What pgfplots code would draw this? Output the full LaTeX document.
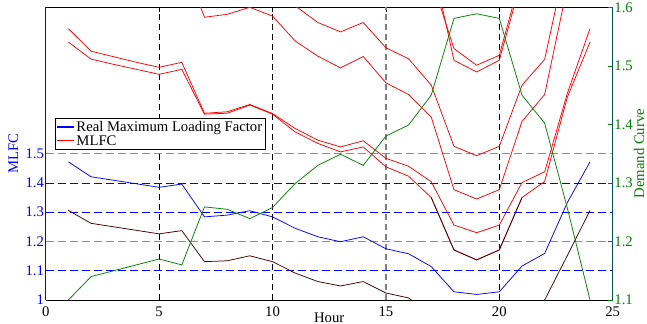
\documentclass[border=0pt]{standalone}
\usepackage{fontspec}
\setmainfont{Liberation Serif}
\usepackage{pgfplots}
\pgfplotsset{compat=1.18}
\usepackage{pgfplotstable}

\definecolor{mlblue}{rgb}{0,0,1}
\definecolor{mlred}{rgb}{1,0,0}
\definecolor{mlgreen}{rgb}{0,0.5,0}
\definecolor{mldark}{rgb}{0.25,0,0}
\definecolor{lightgrid}{rgb}{0.5,0.5,1}
\definecolor{tealaxis}{rgb}{0,0.33,0.38}
\newcommand\fs{\fontsize{14.7bp}{17bp}\selectfont}

\pgfplotstableread{
h blue p1 p2 s r dark green
1 1.472 1.927 1.881 2.40 2.60 1.306 1.100
2 1.421 1.850 1.823 2.33 2.52 1.262 1.140
3 1.409 1.831 1.805 2.31 2.50 1.250 1.150
4 1.397 1.812 1.788 2.29 2.48 1.238 1.160
5 1.385 1.795 1.771 2.27 2.46 1.226 1.170
6 1.396 1.812 1.788 2.17 2.40 1.237 1.160
7 1.284 1.638 1.635 1.966 2.09 1.131 1.259
8 1.290 1.643 1.638 1.976 2.10 1.134 1.255
9 1.305 1.668 1.666 2.000 2.12 1.151 1.239
10 1.284 1.637 1.635 1.970 2.09 1.131 1.258
11 1.245 1.586 1.574 1.885 2.005 1.092 1.299
12 1.216 1.546 1.535 1.833 1.948 1.063 1.330
13 1.199 1.523 1.506 1.793 1.916 1.048 1.349
14 1.216 1.544 1.523 1.832 1.948 1.063 1.330
15 1.175 1.484 1.455 1.742 1.862 1.024 1.380
16 1.158 1.457 1.423 1.702 1.824 1.007 1.399
17 1.114 1.404 1.350 1.625 1.734 0.950 1.450
18 1.028 1.256 1.171 1.377 1.525 0.800 1.581
19 1.019 1.230 1.137 1.345 1.493 0.770 1.589
20 1.028 1.256 1.171 1.377 1.525 0.800 1.581
21 1.116 1.401 1.350 1.610 1.734 0.950 1.450
22 1.159 1.438 1.405 1.702 1.822 1.000 1.402
23 1.333 1.706 1.693 2.070 2.180 1.152 1.257
24 1.472 1.927 1.881 2.400 2.600 1.306 1.100
}\data

\pgfplotstableread{
h q1 q2
17 2.10 2.17
18 1.859 1.819
19 1.802 1.779
20 1.836 1.819
21 2.12 2.10
}\qdata

\begin{document}
\begin{tikzpicture}
\begin{axis}[name=main, scale only axis, width=567bp, height=292.7bp,
  xmin=0, xmax=25, ymin=1, ymax=2,
  xtick={0,5,10,15,20,25}, ytick={1,1.1,1.2,1.3,1.4,1.5},
  xtick pos=both, ytick pos=left, tick align=inside, major tick length=5bp,
  separate axis lines,
  x axis line style={black, line width=0.8bp},
  y axis line style={mlblue, line width=0.8bp},
  xtick style={black, line width=0.6bp},
  ytick style={mlblue, line width=0.6bp},
  /pgf/number format/assume math mode=true,
  /pgf/number format/fixed,
  tick label style={font=\fs},
  xticklabel style={anchor=base, yshift=-16.7bp, inner sep=0pt},
  yticklabel style={mlblue, anchor=east, inner sep=1.5bp},
  xlabel={Hour},
  xlabel style={font=\fs, at={(axis description cs:0.5,0)}, anchor=base, yshift=-22.3bp, inner sep=0pt},
  ylabel={MLFC},
  ylabel style={font=\fs, mlblue, at={(axis description cs:0,0.5)}, anchor=base, yshift=27.7bp, inner sep=0pt},
  legend style={at={(0.0164,0.6208)}, anchor=north west, font=\fs,
    draw=black, fill=white, line width=0.7bp,
    inner xsep=1bp, inner ysep=0.5bp, row sep=-1.5bp,
    nodes={inner sep=2bp}},
  legend cell align=left,
  every axis plot/.append style={line width=0.75bp},
]
% dashed reference lines
\addplot[forget plot, black, line width=0.7bp, dash pattern=on 6bp off 4bp] coordinates {(5,1) (5,2)};
\addplot[forget plot, black, line width=0.7bp, dash pattern=on 6bp off 4bp] coordinates {(10,1) (10,2)};
\addplot[forget plot, black!50, line width=1.4bp, dash pattern=on 6bp off 4bp] coordinates {(15,1) (15,2)};
\addplot[forget plot, black, line width=0.7bp, dash pattern=on 6bp off 4bp] coordinates {(20,1) (20,2)};
\addplot[forget plot, mlblue, line width=0.7bp, dash pattern=on 8bp off 4bp] coordinates {(0,1.1) (25,1.1)};
\addplot[forget plot, lightgrid, line width=1.4bp, dash pattern=on 8bp off 4bp] coordinates {(0,1.2) (25,1.2)};
\addplot[forget plot, mlblue, line width=0.7bp, dash pattern=on 8bp off 4bp] coordinates {(0,1.3) (25,1.3)};
\addplot[forget plot, mlblue, line width=0.7bp, dash pattern=on 8bp off 4bp] coordinates {(0,1.4) (25,1.4)};
\addplot[forget plot, lightgrid, line width=1.4bp, dash pattern=on 8bp off 4bp] coordinates {(0,1.5) (25,1.5)};
% data
\addplot[forget plot, mlred] table[x=h, y=p2] {\data};
\addplot[forget plot, mlred] table[x=h, y=s] {\data};
\addplot[forget plot, mlred] table[x=h, y=r] {\data};
\addplot[forget plot, mlred] table[x=h, y=q1] {\qdata};
\addplot[forget plot, mlred] table[x=h, y=q2] {\qdata};
\addplot[forget plot, mldark] table[x=h, y=dark] {\data};
\addplot[forget plot, mldark, restrict x to domain=17:21] table[x=h, y=p2] {\data};
\addplot[color=mlblue, legend image code/.code={\draw[draw=mlblue, line width=1.1bp] (0bp,0bp) -- (17bp,0bp);}] table[x=h, y=blue] {\data};
\addlegendentry{Real Maximum Loading Factor}
\addplot[color=mlred, legend image code/.code={\draw[draw=mlred, line width=1.1bp] (0bp,0bp) -- (17bp,0bp);}] table[x=h, y=p1] {\data};
\addlegendentry{MLFC}
\end{axis}
\begin{axis}[scale only axis, width=567bp, height=292.7bp,
  xmin=0, xmax=25, ymin=1.1, ymax=1.6,
  axis x line=none, axis y line*=right,
  ytick={1.1,1.2,1.3,1.4,1.5,1.6},
  tick align=inside, major tick length=5bp,
  y axis line style={tealaxis, line width=0.8bp},
  ytick style={mlgreen, line width=0.6bp},
  /pgf/number format/assume math mode=true,
  /pgf/number format/fixed,
  tick label style={font=\fs},
  yticklabel style={mlgreen, anchor=west, inner sep=1.5bp},
  ylabel={Demand Curve},
  ylabel style={font=\fs, mlgreen, at={(axis description cs:1,0.5)}, anchor=base, yshift=-31.5bp, inner sep=0pt},
]
\addplot[mlgreen, line width=0.75bp] table[x=h, y=green] {\data};
\end{axis}
\pgfresetboundingbox
\path[use as bounding box] ([xshift=-45.7bp,yshift=-24bp]main.south west) rectangle ([xshift=34.3bp,yshift=7.3bp]main.north east);
\end{tikzpicture}
\end{document}
